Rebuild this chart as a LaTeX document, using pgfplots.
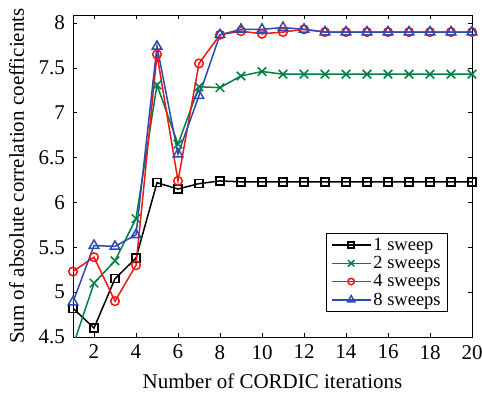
\documentclass[border=0pt]{standalone}
\usepackage{fontspec}
\setmainfont{Liberation Serif}
\usepackage{pgfplots}
\pgfplotsset{compat=1.18}
\definecolor{mgreen}{RGB}{0,128,64}
\definecolor{mred}{RGB}{245,20,20}
\definecolor{mblue}{RGB}{45,75,175}
\begin{document}
\begin{tikzpicture}
\begin{axis}[
  name=ax,
  scale only axis,
  width=399pt, height=322pt,
  xmin=1, xmax=20, ymin=4.5, ymax=8.09,
  xtick={2,4,...,20},
  ytick={4.5,5,...,8},
  tick align=inside,
  xtick pos=both, ytick pos=both,
  major tick length=4pt,
  tick style={black, line width=0.6pt},
  axis line style={line width=0.9pt},
  /pgf/number format/assume math mode=true,
  tick label style={font=\fontsize{21}{24}\selectfont},
  yticklabel style={xshift=-4.5pt},
  xticklabel style={yshift=-4.5pt},
  label style={font=\fontsize{21}{24}\selectfont},
  xlabel={Number of CORDIC iterations},
  ylabel={Sum of absolute correlation coefficients},
  xlabel style={at={(axis description cs:0.5,-0.1037)}, anchor=north},
  ylabel style={at={(axis description cs:-0.114,0.5)}, anchor=south},
  legend style={at={(0.94,0.0776)}, anchor=south east, draw=black, line width=0.7pt,
    font=\fontsize{18.5}{19}\selectfont, row sep=2.5pt, inner xsep=5pt, inner ysep=4pt,
    nodes={inner xsep=2pt, inner ysep=1pt},
    cells={anchor=west}},
  legend image code/.code={\draw[mark repeat=2,mark phase=2,line width=1.5pt,#1,mark options={scale=0.75}] plot coordinates {(0pt,0pt) (19.5pt,0pt) (39pt,0pt)};},
  every axis plot/.append style={line width=1.5pt},
]
\addplot[black, mark=square, mark size=4pt, mark options={line width=1.5pt}] coordinates {
(1,4.82) (2,4.60) (3,5.15) (4,5.38) (5,6.22) (6,6.15) (7,6.21) (8,6.24) (9,6.23) (10,6.23)
(11,6.23) (12,6.23) (13,6.23) (14,6.23) (15,6.23) (16,6.23) (17,6.23) (18,6.23) (19,6.23) (20,6.23)};
\addlegendentry{1 sweep}
\addplot[mgreen, forget plot] coordinates {(1,4.40) (2,5.10)};
\addplot[mgreen, mark=x, mark size=6pt, mark options={line width=1.5pt}] coordinates {
(2,5.10) (3,5.35) (4,5.82) (5,7.31) (6,6.65) (7,7.29) (8,7.28) (9,7.41) (10,7.46)
(11,7.43) (12,7.43) (13,7.43) (14,7.43) (15,7.43) (16,7.43) (17,7.43) (18,7.43) (19,7.43) (20,7.43)};
\addlegendentry{2 sweeps}
\addplot[mred, mark=o, mark size=4.3pt, mark options={line width=1.5pt}] coordinates {
(1,5.23) (2,5.39) (3,4.90) (4,5.30) (5,7.65) (6,6.24) (7,7.55) (8,7.87) (9,7.91) (10,7.88)
(11,7.90) (12,7.93) (13,7.90) (14,7.90) (15,7.90) (16,7.90) (17,7.90) (18,7.90) (19,7.90) (20,7.90)};
\addlegendentry{4 sweeps}
\addplot[mblue, mark=triangle, mark size=5.5pt, mark options={line width=1.5pt}] coordinates {
(1,4.89) (2,5.52) (3,5.51) (4,5.64) (5,7.74) (6,6.54) (7,7.19) (8,7.87) (9,7.93) (10,7.93)
(11,7.95) (12,7.93) (13,7.90) (14,7.90) (15,7.90) (16,7.90) (17,7.90) (18,7.90) (19,7.90) (20,7.90)};
\addlegendentry{8 sweeps}
\end{axis}
\pgfresetboundingbox
\path ([xshift=-73pt,yshift=15pt]ax.north west) rectangle ([xshift=10pt,yshift=-60pt]ax.south east);
\end{tikzpicture}
\end{document}
